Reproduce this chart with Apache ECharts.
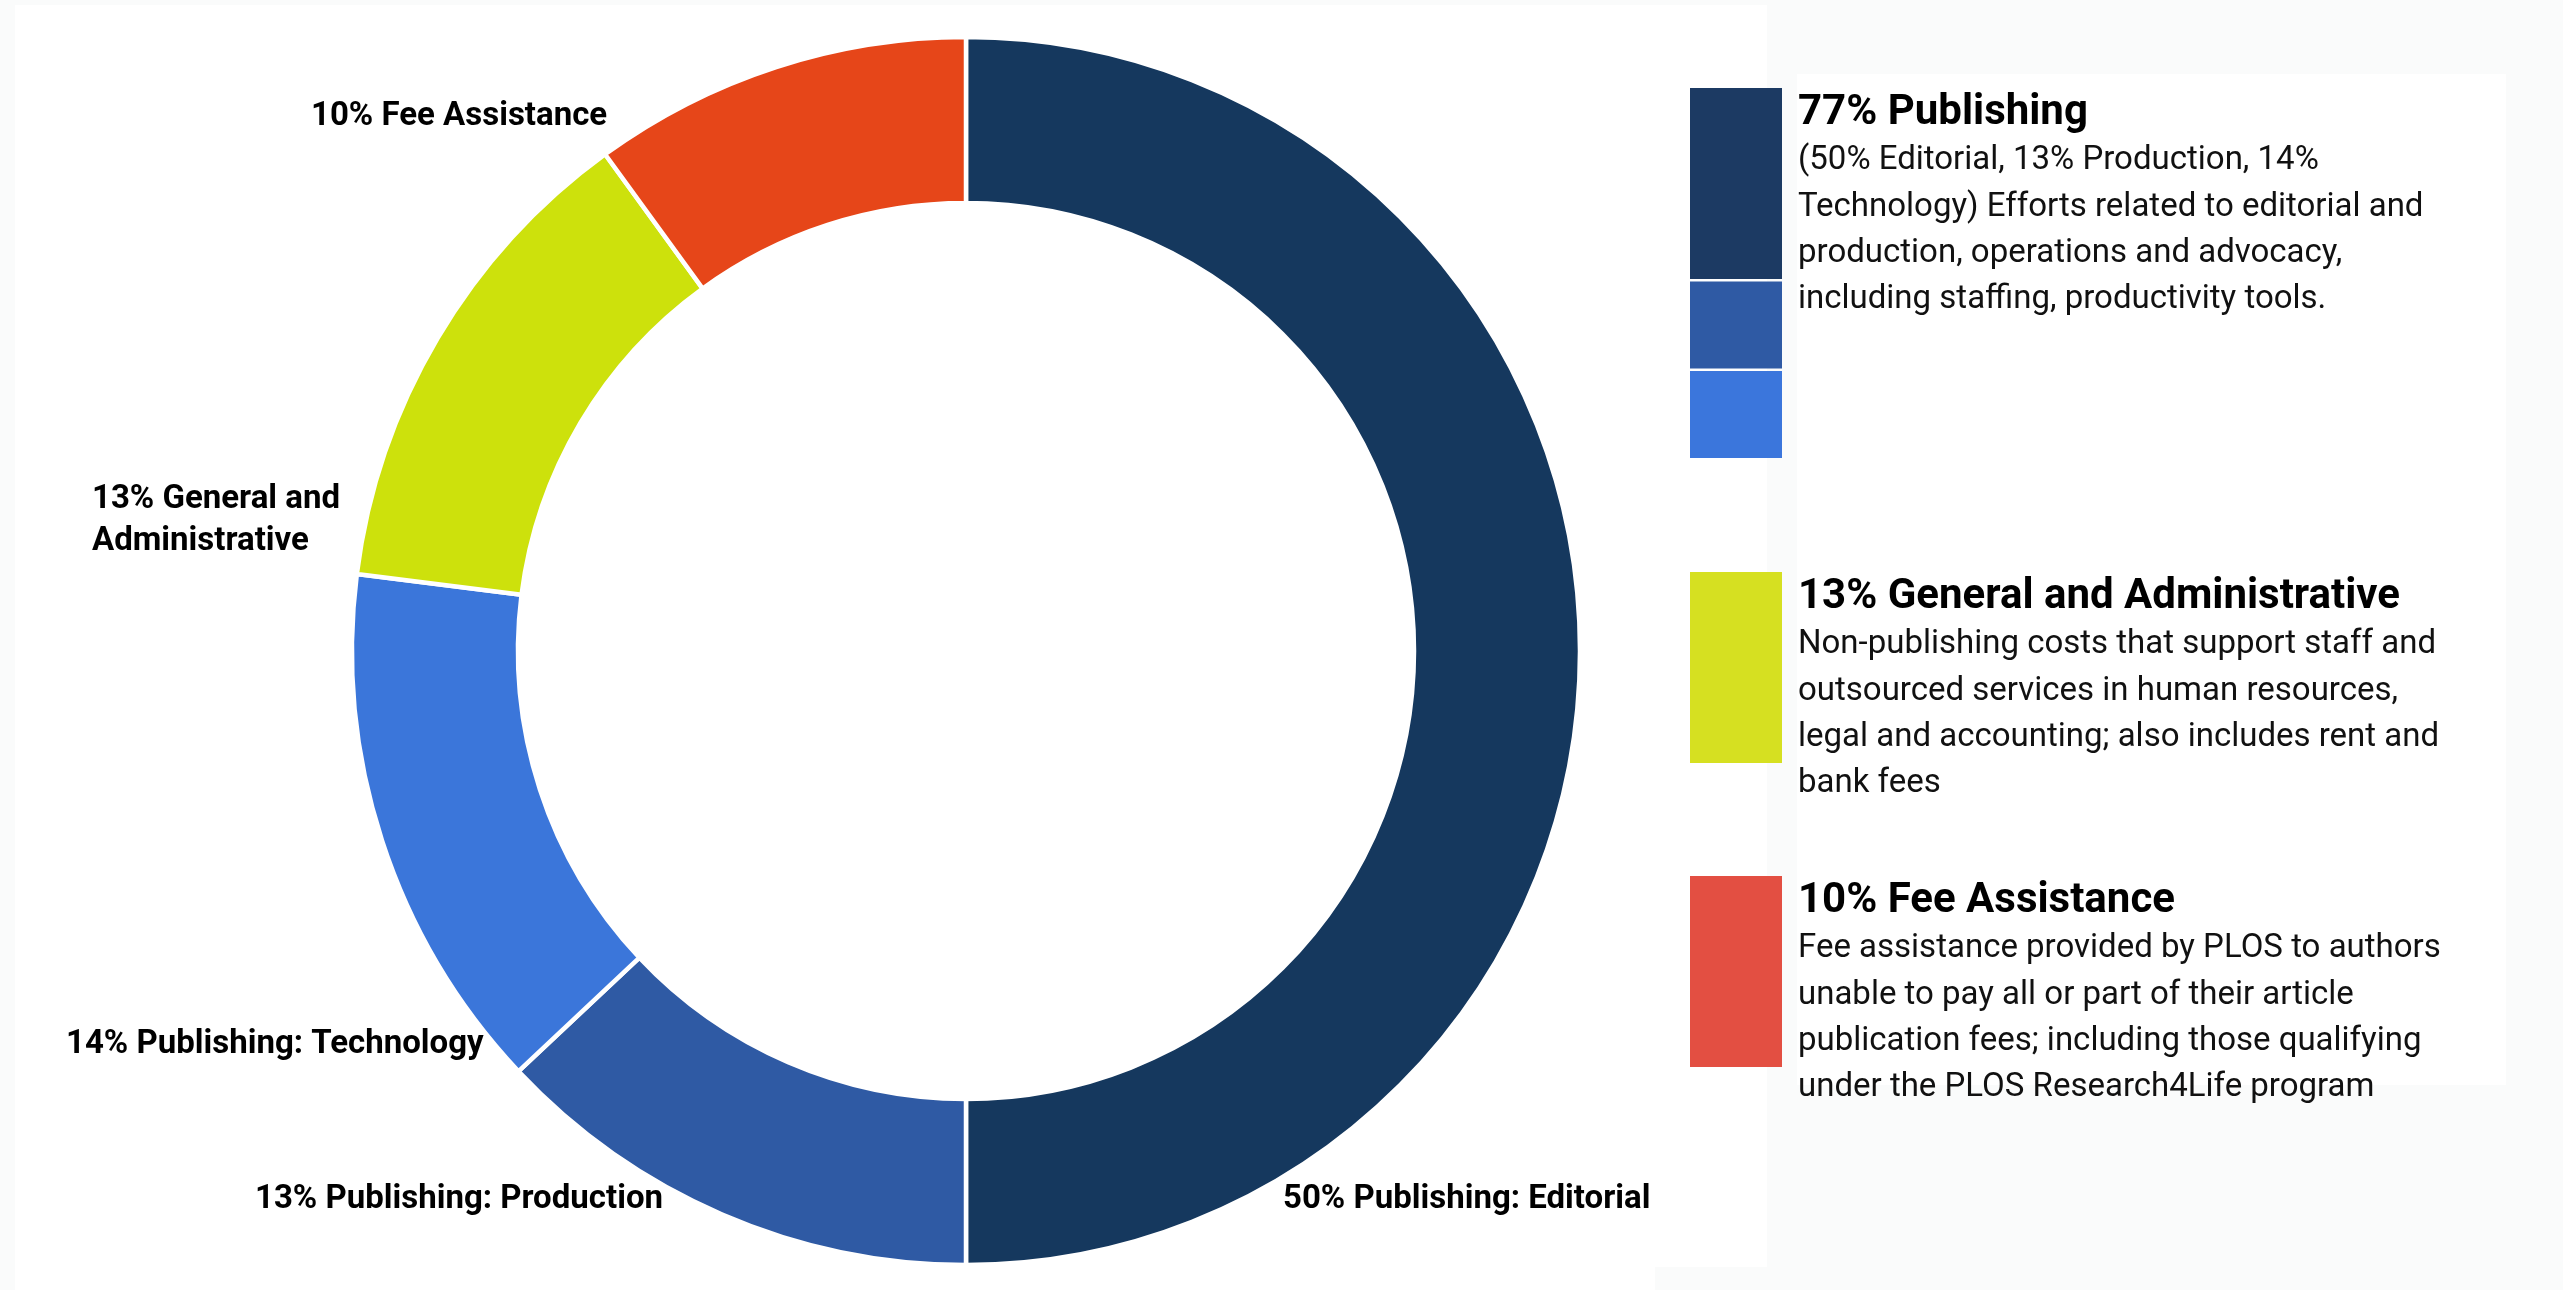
<!DOCTYPE html>
<html><head><meta charset="utf-8">
<script src="https://cdn.jsdelivr.net/npm/echarts@6/dist/echarts.min.js"></script>
<style>html,body{margin:0;padding:0;background:#fafbfb;}#chart{width:2563px;height:1290px;}</style>
</head><body><div id="chart"></div>
<script>
// ---- data ----
const categories = ['Publishing: Editorial', 'Publishing: Production', 'Publishing: Technology', 'General and Administrative', 'Fee Assistance'];
const values = [50, 13, 14, 13, 10];
const labelTexts = ['Publishing: Editorial', 'Publishing: Production', 'Publishing: Technology', 'General and\nAdministrative', 'Fee Assistance'];
const ringColors = ['#15385E', '#2F5AA4', '#3B76DA', '#CDE10C', '#E64619'];

const legendTitles = ['77% Publishing', '13% General and Administrative', '10% Fee Assistance'];
const legendDescs = [
  '(50% Editorial, 13% Production, 14%\nTechnology) Efforts related to editorial and\nproduction, operations and advocacy,\nincluding staffing, productivity tools.',
  'Non-publishing costs that support staff and\noutsourced services in human resources,\nlegal and accounting; also includes rent and\nbank fees',
  'Fee assistance provided by PLOS to authors\nunable to pay all or part of their article\npublication fees; including those qualifying\nunder the PLOS Research4Life program'
];
const legendSwatchColors = [['#1C3A63', '#2F5AA4', '#3B76DC'], ['#D6E021'], ['#E34F42']];

// ---- layout (positions/styles only) ----
const FONT = 'Roboto, "Noto Sans", sans-serif';
const labelPos = [
  { x: 1283, y: 1200 },
  { x: 255, y: 1200 },
  { x: 66, y: 1045 },
  { x: 92, y: 521 },
  { x: 311, y: 117 }
];
const groupTops = [88, 572, 876];
const swatchHeights = [[191, 87, 87], [191], [191]];
const swatchGap = 2.5;
const swatchX = 1690, swatchW = 92, textX = 1798;
const titleOffset = 25;   // title center relative to group top
const descOffset = 50;    // desc top relative to group top

const graphics = [
  { type: 'rect', z: -10, silent: true, shape: { x: 15, y: 5, width: 1752, height: 1262 }, style: { fill: '#ffffff' } },
  { type: 'rect', z: -10, silent: true, shape: { x: 15, y: 1267, width: 1640, height: 23 }, style: { fill: '#ffffff' } },
  { type: 'rect', z: -10, silent: true, shape: { x: 1797, y: 74, width: 709, height: 1011 }, style: { fill: '#ffffff' } }
];
legendTitles.forEach((t, g) => {
  let y = groupTops[g];
  legendSwatchColors[g].forEach((c, k) => {
    const h = swatchHeights[g][k];
    graphics.push({ type: 'rect', silent: true, shape: { x: swatchX, y: y, width: swatchW, height: h }, style: { fill: c } });
    y += h + swatchGap;
  });
  graphics.push({ type: 'text', silent: true, x: textX, y: groupTops[g] + titleOffset,
    style: { text: t, fontFamily: FONT, fontSize: 42, fontWeight: 'bold', fill: '#000', verticalAlign: 'middle', align: 'left' } });
  graphics.push({ type: 'text', silent: true, x: textX, y: groupTops[g] + descOffset,
    style: { text: legendDescs[g], fontFamily: FONT, fontSize: 33, lineHeight: 46.3, fill: '#111', verticalAlign: 'top', align: 'left' } });
});

const chart = echarts.init(document.getElementById('chart'), null, { renderer: 'canvas' });
chart.setOption({
  animation: false,
  backgroundColor: 'transparent',
  graphic: graphics,
  series: [{
    type: 'pie',
    center: [966, 651],
    radius: [448, 614],
    startAngle: 90,
    clockwise: true,
    avoidLabelOverlap: false,
    silent: true,
    itemStyle: { borderColor: '#ffffff', borderWidth: 4.5 },
    label: {
      show: true,
      position: 'outside',
      fontFamily: FONT,
      fontSize: 33,
      fontWeight: 'bold',
      color: '#000',
      lineHeight: 42,
      formatter: p => p.percent + '% ' + labelTexts[p.dataIndex]
    },
    labelLine: { show: false },
    labelLayout: p => ({ x: labelPos[p.dataIndex].x, y: labelPos[p.dataIndex].y, align: 'left', verticalAlign: 'middle' }),
    emphasis: { disabled: true },
    data: categories.map((c, i) => ({ name: c, value: values[i], itemStyle: { color: ringColors[i] } }))
  }]
});
</script>
</body></html>
